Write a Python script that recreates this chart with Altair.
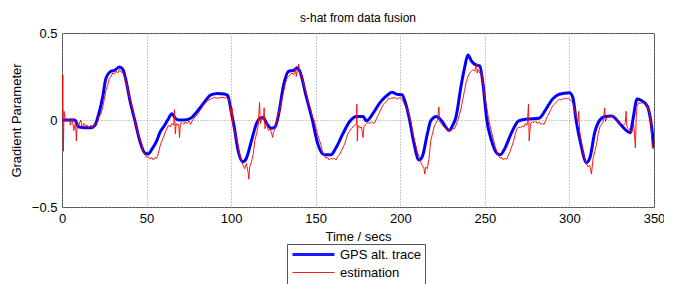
import altair as alt
import pandas as pd

# GPS altitude trace (blue)
gps_t = [0, 7.5, 10, 17, 19.5, 21, 24, 26, 29, 31, 34, 36, 38, 40, 43, 46, 49, 51, 53, 56,
         58, 60, 62.5, 65, 67, 69, 72, 76, 80, 84, 88, 92, 96, 98, 100, 102, 104, 107, 109,
         112, 115, 117, 119, 121, 124, 126, 128, 131, 134, 137, 139, 141, 144, 148, 151, 155,
         159, 162, 166, 170, 174, 178, 180, 184, 188, 192, 195, 198, 201, 203, 205.5, 208, 211,
         213, 216, 218, 221.5, 224, 229, 231, 233, 236, 238, 240, 242, 244, 247, 249, 251, 254,
         257, 259, 262, 265, 268, 270, 275, 282, 286, 290, 294, 300, 302, 304, 307, 310, 312,
         315, 318, 321, 325, 328, 331, 336, 337.5, 340, 342, 346, 348, 350]
gps_v = [0.0, 0.0, -0.04, -0.045, -0.03, 0.01, 0.13, 0.24, 0.28, 0.285, 0.305, 0.29, 0.22, 0.12,
         0.0, -0.12, -0.19, -0.195, -0.17, -0.12, -0.07, -0.04, 0.0, 0.036, 0.01, 0.0, 0.0, 0.01,
         0.05, 0.1, 0.145, 0.153, 0.15, 0.14, 0.05, -0.05, -0.17, -0.24, -0.22, -0.12, -0.02,
         0.01, 0.015, -0.02, -0.048, -0.04, 0.03, 0.2, 0.28, 0.285, 0.3, 0.27, 0.15, 0.0, -0.13,
         -0.2, -0.2, -0.16, -0.08, -0.01, 0.02, 0.02, -0.005, 0.04, 0.1, 0.14, 0.16, 0.148, 0.145,
         0.1, 0.0, -0.13, -0.23, -0.21, -0.08, -0.005, 0.02, 0.0, -0.06, -0.03, 0.02, 0.2, 0.3,
         0.374, 0.34, 0.32, 0.31, 0.2, 0.01, -0.12, -0.19, -0.2, -0.16, -0.09, -0.03, -0.005,
         0.005, 0.01, 0.06, 0.12, 0.148, 0.157, 0.13, -0.005, -0.15, -0.245, -0.22, -0.07, 0.0,
         0.02, 0.023, 0.0, -0.034, -0.073, 0.0, 0.12, 0.115, 0.08, 0.0, -0.16]

# Estimated s-hat (red)
est_t = [0, 0.5, 0.8, 1.2, 2, 3, 4, 5, 6, 7, 8, 8.5, 9, 10, 11, 12, 13, 14, 15, 16, 17, 18, 19,
         20, 21, 22, 23, 24, 25, 26, 27, 28, 29, 30, 31, 32, 33, 34, 35, 36, 37, 38, 39, 40, 41,
         42, 43, 44, 45, 46, 47, 48, 49, 50, 51, 52, 53, 54, 55, 56, 57, 58, 59, 60, 61, 62, 63,
         64, 65, 66, 66.5, 67, 67.5, 68, 69, 69.5, 70, 71, 72, 73, 74, 75, 76, 77, 78, 80, 82, 84,
         86, 88, 90, 92, 94, 96, 98, 99, 100, 100.5, 101, 102, 103, 104, 105, 106, 107, 108, 109,
         110, 110.5, 111, 112, 113, 114, 115, 116, 116.8, 117.3, 118, 119, 119.5, 120, 121, 122,
         123, 124, 124.5, 125, 126, 127, 128, 129, 130, 131, 132, 133, 134, 135, 136, 137, 138,
         138.5, 139, 140, 140.5, 141, 142, 143, 144, 145, 146, 147, 148, 149, 150, 151, 152, 153,
         154, 155, 156, 157, 158, 159, 160, 161, 162, 163, 164, 165, 166, 167, 168, 169, 170, 171,
         172, 173, 174, 174.3, 174.6, 175, 176, 177, 178, 178.5, 179, 180, 181, 182, 183, 184, 185,
         186, 187, 188, 189, 190, 191, 192, 193, 194, 195, 196, 197, 198, 199, 200, 201, 202, 203,
         204, 205, 206, 207, 208, 209, 210, 211, 212, 213, 214, 214.5, 215, 216, 217, 218, 219,
         220, 221, 222, 222.8, 223.3, 224, 225, 226, 227, 228, 229, 230, 231, 232, 233, 234, 235,
         236, 237, 238, 239, 240, 241, 242, 243, 244, 245, 245.5, 246, 247, 248, 249, 250, 251,
         252, 253, 254, 255, 256, 257, 258, 259, 260, 261, 262, 263, 264, 265, 266, 267, 268, 269,
         270, 271, 272, 273, 274, 275, 275.8, 276.2, 277, 278, 279, 280, 281, 282, 283, 284, 285,
         286, 287, 288, 289, 290, 291, 292, 293, 294, 295, 296, 297, 298, 299, 300, 301, 302, 303,
         304, 305, 305.5, 306, 307, 308, 309, 310, 311, 312, 313, 313.5, 314, 315, 316, 317, 318,
         319, 320, 320.8, 321.3, 322, 323, 324, 325, 326, 327, 328, 329, 330, 331, 332, 333, 333.5,
         334, 335, 336, 337, 338, 339, 339.5, 340, 341, 342, 343, 344, 345, 346, 347, 348, 349, 350]
est_v = [0.0, 0.26, -0.18, 0.05, 0.0, -0.01, 0.005, -0.03, 0.01, -0.06, -0.01, -0.12, -0.02, -0.03,
         0.0, -0.04, -0.02, -0.035, -0.03, -0.045, -0.03, -0.05, -0.035, -0.02, -0.01, 0.02, 0.035,
         0.07, 0.12, 0.17, 0.2, 0.24, 0.25, 0.27, 0.265, 0.28, 0.27, 0.29, 0.275, 0.27, 0.25, 0.22,
         0.17, 0.13, 0.09, 0.05, 0.0, -0.04, -0.08, -0.11, -0.14, -0.18, -0.2, -0.215, -0.21, -0.225,
         -0.215, -0.23, -0.215, -0.22, -0.19, -0.15, -0.12, -0.1, -0.07, -0.05, -0.03, -0.04, -0.02,
         -0.03, 0.06, -0.08, -0.02, -0.03, -0.025, -0.1, -0.02, -0.015, -0.025, -0.01, -0.02, -0.005,
         -0.025, -0.005, 0.01, 0.03, 0.06, 0.09, 0.11, 0.12, 0.13, 0.125, 0.13, 0.128, 0.125, 0.1,
         0.03, 0.07, -0.03, -0.06, -0.1, -0.14, -0.2, -0.23, -0.26, -0.28, -0.25, -0.3, -0.34, -0.27,
         -0.24, -0.2, -0.12, -0.08, -0.03, 0.1, -0.02, 0.01, 0.0, 0.07, -0.05, -0.02, -0.06, -0.05,
         -0.08, -0.1, -0.07, -0.05, 0.0, 0.04, 0.07, 0.12, 0.16, 0.21, 0.24, 0.25, 0.26, 0.27, 0.26,
         0.3, 0.25, 0.28, 0.32, 0.26, 0.27, 0.25, 0.2, 0.17, 0.13, 0.09, 0.06, 0.02, 0.0, -0.04,
         -0.08, -0.11, -0.14, -0.18, -0.2, -0.22, -0.215, -0.23, -0.22, -0.225, -0.22, -0.23, -0.21,
         -0.2, -0.18, -0.16, -0.14, -0.11, -0.08, -0.065, -0.05, -0.04, -0.03, -0.025, 0.09, -0.12,
         -0.03, -0.045, -0.04, -0.1, -0.04, -0.03, -0.02, -0.015, -0.02, -0.01, -0.02, -0.015, 0.01,
         0.03, 0.05, 0.07, 0.09, 0.1, 0.11, 0.125, 0.12, 0.13, 0.125, 0.13, 0.12, 0.125, 0.13, 0.12,
         0.1, 0.08, 0.06, 0.04, 0.0, -0.05, -0.1, -0.14, -0.18, -0.21, -0.24, -0.26, -0.28, -0.31,
         -0.27, -0.28, -0.22, -0.12, -0.08, -0.04, -0.02, 0.0, 0.075, -0.01, -0.02, -0.03, -0.04,
         -0.05, -0.065, -0.055, -0.06, -0.05, -0.05, -0.03, 0.0, 0.03, 0.07, 0.12, 0.17, 0.22, 0.25,
         0.27, 0.28, 0.29, 0.28, 0.32, 0.27, 0.29, 0.27, 0.28, 0.2, 0.13, 0.08, 0.02, -0.03, -0.07,
         -0.11, -0.15, -0.18, -0.2, -0.22, -0.215, -0.23, -0.22, -0.225, -0.2, -0.18, -0.15, -0.12,
         -0.08, -0.05, -0.04, -0.045, -0.035, -0.04, -0.02, -0.03, 0.09, -0.12, -0.02, -0.01, -0.015,
         -0.005, -0.02, -0.01, -0.025, -0.02, -0.025, 0.0, 0.02, 0.04, 0.06, 0.08, 0.09, 0.1, 0.11,
         0.12, 0.115, 0.12, 0.125, 0.12, 0.125, 0.12, 0.11, 0.1, 0.06, 0.02, -0.01, 0.05, -0.06,
         -0.12, -0.18, -0.22, -0.25, -0.27, -0.26, -0.31, -0.27, -0.22, -0.18, -0.14, -0.08, -0.04,
         -0.025, -0.01, 0.07, -0.01, 0.01, 0.02, 0.015, 0.025, 0.02, 0.01, 0.0, -0.01, -0.02, -0.025,
         -0.03, -0.02, 0.05, -0.04, -0.05, -0.06, -0.07, -0.02, -0.16, 0.02, 0.08, 0.1, 0.095, 0.1,
         0.1, 0.095, 0.08, 0.05, 0.0, -0.16, -0.17]

series_names = ["GPS alt. trace", "estimation"]
series_colors = ["#0000FF", "#FF0000"]
series_widths = [3, 1]
x_ticks = [0, 50, 100, 150, 200, 250, 300, 350]
y_ticks = [-0.5, 0, 0.5]

df = pd.concat([
    pd.DataFrame({"t": gps_t, "v": gps_v, "series": series_names[0], "ord": range(len(gps_t))}),
    pd.DataFrame({"t": est_t, "v": est_v, "series": series_names[1], "ord": range(len(est_t))}),
])

FONT = "Liberation Sans"
LEG_SYMBOL = "M-2.33,0H2.33"
width_expr = (f"datum.value === '{series_names[0]}' ? {series_widths[0]} : {series_widths[1]}")

x = alt.X("t:Q", scale=alt.Scale(domain=[0, 350], nice=False),
          axis=alt.Axis(values=x_ticks, title="Time / secs", grid=True, labelFlush=False))
y = alt.Y("v:Q", scale=alt.Scale(domain=[-0.5, 0.5], nice=False),
          axis=alt.Axis(values=y_ticks, title="Gradient Parameter", grid=True,
                        format="~g", labelFlush=False))
color = alt.Color(
    "series:N", scale=alt.Scale(domain=series_names, range=series_colors),
    legend=alt.Legend(
        title=None, orient="none", legendX=225, legendY=211,
        symbolType=LEG_SYMBOL, symbolSize=324,
        symbolStrokeWidth={"expr": width_expr},
        labelFontSize=13, labelFont=FONT, labelColor="#000",
        strokeColor="#555", fillColor="white", padding=4,
        rowPadding=4, labelOffset=20, symbolOffset=16, labelLimit=300,
    ),
)

base = alt.Chart(df).encode(x=x, y=y, color=color, order="ord:Q")
blue = base.transform_filter(alt.datum.series == series_names[0]).mark_line(
    clip=True, interpolate="monotone", strokeWidth=series_widths[0])
red = base.transform_filter(alt.datum.series == series_names[1]).mark_line(
    clip=True, opacity=0.9, strokeWidth=series_widths[1])

chart = alt.layer(blue, red).properties(
    width=592, height=174,
    title=alt.TitleParams("s-hat from data fusion", font=FONT, fontSize=12,
                          fontWeight="normal", color="#000", offset=2),
    autosize=alt.AutoSizeParams(type="none"),
    padding={"left": 54, "top": 25, "right": 10, "bottom": 85},
).configure_view(stroke="#444", strokeWidth=1).configure_axis(
    labelFont=FONT, titleFont=FONT, labelFontSize=13, titleFontSize=13,
    titleFontWeight="normal", labelColor="#000", titleColor="#000",
    gridColor="#999", gridDash=[1, 2], gridWidth=1, domain=False,
    tickSize=0, labelPadding=5,
).configure_axisX(titlePadding=5).configure_axisY(titlePadding=8)

chart.save("out.html", embed_options={"renderer": "svg", "actions": False})
